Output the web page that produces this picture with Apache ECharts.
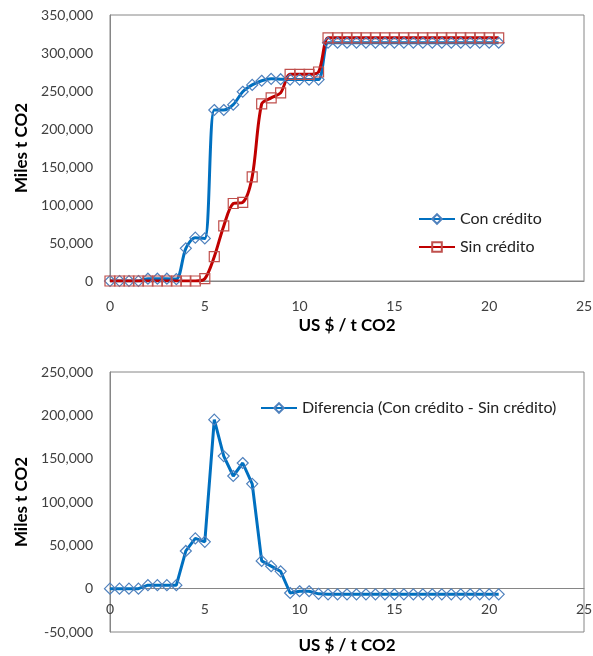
<!DOCTYPE html>
<html>
<head>
<meta charset="utf-8">
<script src="https://cdn.jsdelivr.net/npm/echarts@6/dist/echarts.min.js"></script>
<style>
  html, body { margin: 0; padding: 0; background: #fff; }
  #chart { width: 593px; height: 656px; }
</style>
</head>
<body>
<div id="chart"></div>
<script>
// Precio del carbono (US $ / t CO2)
const precio = [0, 0.5, 1, 1.5, 2, 2.5, 3, 3.5, 4, 4.5, 5, 5.5, 6, 6.5, 7, 7.5, 8, 8.5, 9, 9.5,
  10, 10.5, 11, 11.5, 12, 12.5, 13, 13.5, 14, 14.5, 15, 15.5, 16, 16.5, 17, 17.5, 18, 18.5, 19, 19.5,
  20, 20.5];

// Reducción acumulada (miles t CO2)
const conCredito = [0, 0, 0, 0, 3000, 3000, 3000, 2500, 43000, 57000, 56000, 225000, 225000, 232000,
  249000, 258000, 263500, 266000, 265500, 265000, 265000, 265000, 265000, 313500, 313500, 313500,
  313500, 313500, 313500, 313500, 313500, 313500, 313500, 313500, 313500, 313500, 313500, 313500,
  313500, 313500, 313500, 313500];

const sinCredito = [0, 0, 0, 0, 0, 0, 0, 0, 0, 0, 3000, 32000, 72500, 102000, 103500, 137000, 233000,
  241000, 247500, 272000, 272000, 272000, 275000, 320000, 320000, 320000, 320000, 320000, 320000,
  320000, 320000, 320000, 320000, 320000, 320000, 320000, 320000, 320000, 320000, 320000, 320000,
  320000];

const diferencia = [0, 0, 0, 0, 4000, 4000, 4000, 4000, 43500, 58000, 54000, 195000, 153000, 130000,
  145000, 121000, 32000, 26000, 20000, -5000, -3000, -3000, -6000, -6500, -6500, -6500, -6500, -6500,
  -6500, -6500, -6500, -6500, -6500, -6500, -6500, -6500, -6500, -6500, -6500, -6500, -6500, -6500];

const xTicks = { min: 0, max: 25, interval: 5 };
const yTicksArriba = { min: 0, max: 350000, interval: 50000 };
const yTicksAbajo = { min: -50000, max: 250000, interval: 50000 };

const FONT = 'Lato, "Open Sans", sans-serif';
const GRIS = '#868686';
const pares = arr => precio.map((x, i) => [x, arr[i]]);
const miles = v => v.toString().replace(/\B(?=(\d{3})+(?!\d))/g, ',');

// Lower panel: the price axis sits on the zero line, so it is lifted from the
// plot bottom by the share of the range that lies below zero.
const ALTO_ABAJO = 260;
const subida = -ALTO_ABAJO * (0 - yTicksAbajo.min) / (yTicksAbajo.max - yTicksAbajo.min);

const ejeX = (gridIndex, nameGap, labelMargin, offset) => ({
  type: 'value', gridIndex, offset,
  min: xTicks.min, max: xTicks.max, interval: xTicks.interval,
  name: 'US $ / t CO2', nameLocation: 'middle', nameGap, nameMoveOverlap: false,
  nameTextStyle: { fontFamily: FONT, fontWeight: 'bold', fontSize: 17, color: '#000' },
  axisLine: { show: true, onZero: false, lineStyle: { color: GRIS, width: 1 } },
  axisTick: { show: false },
  splitLine: { show: false },
  axisLabel: { fontFamily: FONT, fontSize: 14, color: '#404040', margin: labelMargin }
});

const ejeY = (gridIndex, t) => ({
  type: 'value', gridIndex,
  min: t.min, max: t.max, interval: t.interval,
  name: 'Miles t CO2', nameLocation: 'middle', nameGap: 80, nameMoveOverlap: false,
  nameTextStyle: { fontFamily: FONT, fontWeight: 'bold', fontSize: 17, color: '#000' },
  axisLine: { show: true, lineStyle: { color: GRIS, width: 1 } },
  axisTick: { show: false },
  splitLine: { show: false },
  axisLabel: { fontFamily: FONT, fontSize: 14, color: '#404040', margin: 17, formatter: miles }
});

const chart = echarts.init(document.getElementById('chart'), null, { renderer: 'canvas' });

chart.setOption({
  backgroundColor: '#fff',
  animation: false,
  grid: [
    { left: 110, right: 9, top: 15, height: 266, show: true, borderColor: GRIS, borderWidth: 1,
      outerBoundsMode: 'none', containLabel: false },
    { left: 110, right: 9, top: 372, height: ALTO_ABAJO, show: true, borderColor: GRIS, borderWidth: 1,
      outerBoundsMode: 'none', containLabel: false }
  ],
  xAxis: [ejeX(0, 36, 18, 0), ejeX(1, 48, 14, subida)],
  yAxis: [ejeY(0, yTicksArriba), ejeY(1, yTicksAbajo)],
  legend: [
    {
      data: ['Con crédito', 'Sin crédito'],
      orient: 'vertical', left: 418, top: 211, itemGap: 12, padding: 0,
      itemWidth: 36, itemHeight: 12,
      textStyle: { fontFamily: FONT, fontSize: 16, color: '#222' }
    },
    {
      data: ['Diferencia (Con crédito - Sin crédito)'],
      left: 260, top: 400, padding: 0, itemWidth: 36, itemHeight: 12,
      textStyle: { fontFamily: FONT, fontSize: 16, color: '#222' }
    }
  ],
  series: [
    {
      name: 'Con crédito', type: 'line', xAxisIndex: 0, yAxisIndex: 0,
      data: pares(conCredito), smooth: 0.3,
      symbol: 'diamond', symbolSize: 11,
      lineStyle: { color: '#0070C0', width: 3 },
      itemStyle: { color: 'rgba(255,255,255,0)', borderColor: '#4F81BD', borderWidth: 1.2 }
    },
    {
      name: 'Sin crédito', type: 'line', xAxisIndex: 0, yAxisIndex: 0,
      data: pares(sinCredito), smooth: 0.3,
      symbol: 'rect', symbolSize: 10,
      lineStyle: { color: '#C00000', width: 3 },
      itemStyle: { color: 'rgba(255,255,255,0)', borderColor: '#C0504D', borderWidth: 1.2 }
    },
    {
      name: 'Diferencia (Con crédito - Sin crédito)', type: 'line', xAxisIndex: 1, yAxisIndex: 1,
      data: pares(diferencia),
      symbol: 'diamond', symbolSize: 11,
      lineStyle: { color: '#0070C0', width: 3 },
      itemStyle: { color: 'rgba(255,255,255,0)', borderColor: '#4F81BD', borderWidth: 1.2 }
    }
  ]
});
</script>
</body>
</html>
